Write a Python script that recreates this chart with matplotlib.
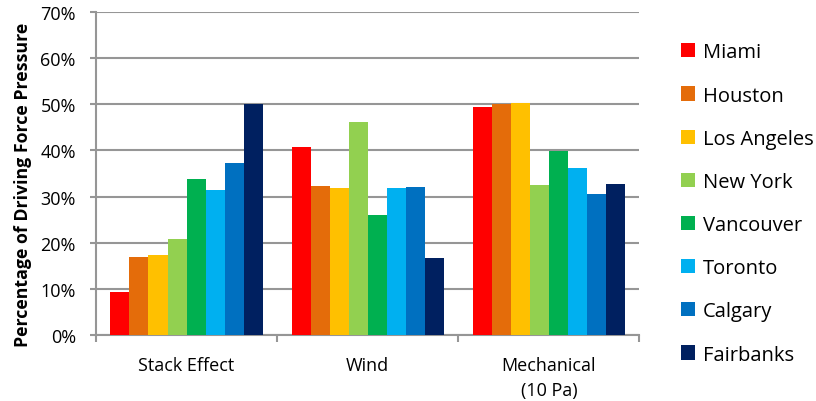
import matplotlib.pyplot as plt
import numpy as np
from matplotlib.patches import Patch

categories = ['Stack Effect', 'Wind', 'Mechanical\n(10 Pa)']
cities = ['Miami', 'Houston', 'Los Angeles', 'New York', 'Vancouver',
          'Toronto', 'Calgary', 'Fairbanks']
colors = ['#FF0000', '#E46C0A', '#FFC000', '#92D050', '#00B050',
          '#00B0F0', '#0070C0', '#002060']

# percent values per city: [stack, wind, mechanical]
miami = [9.3, 40.8, 49.5]
houston = [17.0, 32.3, 50.1]
los_angeles = [17.4, 31.9, 50.2]
new_york = [20.8, 46.2, 32.6]
vancouver = [33.8, 26.0, 39.9]
toronto = [31.5, 31.8, 36.2]
calgary = [37.2, 32.1, 30.5]
fairbanks = [50.1, 16.6, 32.8]
values = [miami, houston, los_angeles, new_york, vancouver, toronto, calgary, fairbanks]

yticks = np.arange(0, 71, 10)

plt.rcParams['font.family'] = ['Open Sans', 'DejaVu Sans']

fig = plt.figure(figsize=(8.16, 4.02), dpi=100)
ax = fig.add_axes([0.1176, 0.164, 0.666, 0.804])

n = len(cities)
group_w = 0.84
bar_w = group_w / n
x = np.arange(len(categories))
for i in range(n):
    ax.bar(x - group_w / 2 + bar_w * (i + 0.5), values[i], width=bar_w,
           color=colors[i], label=cities[i], zorder=3, linewidth=0)

gray = '#969696'
ax.set_xlim(-0.5, len(categories) - 0.5)
ax.set_ylim(0, 70)
ax.set_yticks(yticks)
ax.set_yticklabels(['%d%%' % v for v in yticks], fontsize=13)
ax.yaxis.grid(True, color=gray, linewidth=1.5, zorder=0)
ax.set_axisbelow(True)

ax.set_xticks(x)
ax.set_xticklabels(categories, fontsize=13, linespacing=1.5)
ax.tick_params(axis='x', length=0, pad=15)
ax.set_xticks(np.arange(-0.5, len(categories), 1), minor=True)
ax.tick_params(axis='x', which='minor', length=5, color=gray, width=1.5)
ax.tick_params(axis='y', length=4.5, color=gray, width=1.5, pad=10)

for side in ['top', 'right']:
    ax.spines[side].set_visible(False)
for side in ['left', 'bottom']:
    ax.spines[side].set_color(gray)
    ax.spines[side].set_linewidth(1.5)

ax.set_ylabel('Percentage of Driving Force Pressure', fontsize=12.8,
              fontweight='bold')
ax.yaxis.set_label_coords(-0.118, 0.467)

handles = [Patch(facecolor=c, edgecolor='none') for c in colors]
fig.legend(handles, cities, loc='upper left', bbox_to_anchor=(0.822, 0.917),
           frameon=False, fontsize=14.5, handlelength=0.7, handleheight=0.7,
           handletextpad=0.4, labelspacing=1.15, borderpad=0)

fig.savefig('out.png', dpi=100)
